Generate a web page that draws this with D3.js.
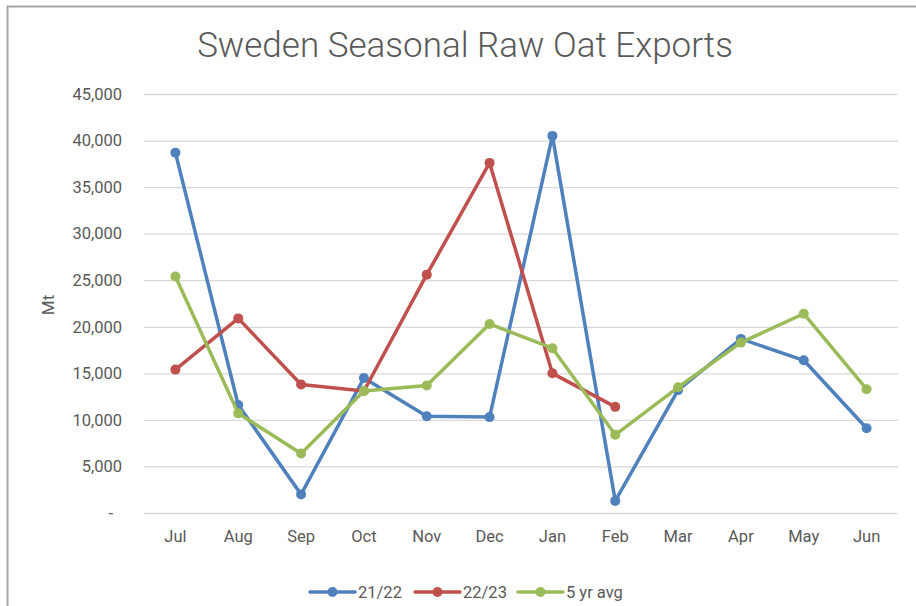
<!DOCTYPE html>
<html>
<head>
<meta charset="utf-8">
<script src="https://cdn.jsdelivr.net/npm/d3@7"></script>
<style>
  body { margin: 0; background: #fff; }
  text { font-family: Roboto, "Open Sans", sans-serif; fill: #595959; }
</style>
</head>
<body>
<div id="chart"></div>
<script>
const months = ['Jul', 'Aug', 'Sep', 'Oct', 'Nov', 'Dec', 'Jan', 'Feb', 'Mar', 'Apr', 'May', 'Jun'];
const exports2122 = [38700, 11600, 2000, 14500, 10400, 10300, 40500, 1300, 13200, 18700, 16400, 9100];
const exports2223 = [15400, 20900, 13800, 13100, 25600, 37600, 15000, 11400];
const avg5yr = [25400, 10700, 6400, 13100, 13700, 20300, 17700, 8400, 13500, 18300, 21400, 13300];
const yTicks = [0, 5000, 10000, 15000, 20000, 25000, 30000, 35000, 40000, 45000];

const seriesNames = ['21/22', '22/23', '5 yr avg'];
const seriesValues = [exports2122, exports2223, avg5yr];
const colors = ['#4f81bd', '#c0504d', '#9bbb59'];

const width = 916;
const height = 606;
const plot = { left: 144, right: 898, top: 94, bottom: 513 };

const svg = d3.select('#chart')
  .append('svg')
  .attr('width', width)
  .attr('height', height);

// chart frame (bottom/right run off the picture)
svg.append('path')
  .attr('d', `M7.5,${height + 5}V6.5H${width + 5}`)
  .attr('fill', 'none')
  .attr('stroke', '#a6a6a6')
  .attr('stroke-width', 2);

const x = d3.scaleBand()
  .domain(months)
  .range([plot.left, plot.right]);

const y = d3.scaleLinear()
  .domain([0, 45000])
  .range([plot.bottom, plot.top]);

// gridlines + y labels
const yAxis = svg.append('g')
  .attr('transform', `translate(${plot.left},0)`)
  .call(d3.axisLeft(y)
    .tickValues(yTicks)
    .tickSize(-(plot.right - plot.left))
    .tickPadding(22)
    .tickFormat(d => d === 0 ? '-' : d3.format(',')(d)));

yAxis.select('.domain').remove();
yAxis.selectAll('.tick line')
  .attr('stroke', '#d9d9d9')
  .attr('stroke-width', 1.3);
yAxis.selectAll('.tick text')
  .attr('font-size', 16.5)
  .attr('fill', '#595959')
  .attr('dx', d => d === 0 ? -9 : 0);

// x labels
const xAxis = svg.append('g')
  .attr('transform', `translate(0,${plot.bottom})`)
  .call(d3.axisBottom(x).tickSize(0).tickPadding(17));
xAxis.select('.domain').remove();
xAxis.selectAll('.tick text')
  .attr('font-size', 16.5)
  .attr('fill', '#595959');

// title
svg.append('text')
  .attr('x', 465)
  .attr('y', 57)
  .attr('text-anchor', 'middle')
  .attr('font-size', 35)
  .attr('font-weight', 300)
  .text('Sweden Seasonal Raw Oat Exports');

// y axis title
svg.append('text')
  .attr('transform', 'translate(54,305) rotate(-90)')
  .attr('text-anchor', 'middle')
  .attr('font-size', 17)
  .text('Mt');

const line = d3.line()
  .x((d, i) => x(months[i]) + x.bandwidth() / 2)
  .y(d => y(d));

seriesValues.forEach((vals, s) => {
  const g = svg.append('g');
  g.append('path')
    .attr('d', line(vals))
    .attr('fill', 'none')
    .attr('stroke', colors[s])
    .attr('stroke-width', 3.5)
    .attr('stroke-linejoin', 'round');
  g.selectAll('circle')
    .data(vals)
    .enter()
    .append('circle')
    .attr('cx', (d, i) => x(months[i]) + x.bandwidth() / 2)
    .attr('cy', d => y(d))
    .attr('r', 5)
    .attr('fill', colors[s]);
});

// legend
const legendX = [310, 415, 518];
const legend = svg.append('g')
  .attr('transform', 'translate(0,592)');
seriesNames.forEach((name, s) => {
  const item = legend.append('g')
    .attr('transform', `translate(${legendX[s]},0)`);
  item.append('line')
    .attr('x1', 0)
    .attr('x2', 45)
    .attr('stroke', colors[s])
    .attr('stroke-width', 3.5)
    .attr('stroke-linecap', 'round');
  item.append('circle')
    .attr('cx', 22.5)
    .attr('r', 5)
    .attr('fill', colors[s]);
  item.append('text')
    .attr('x', 48)
    .attr('dy', '0.35em')
    .attr('font-size', 16.5)
    .text(name);
});
</script>
</body>
</html>
